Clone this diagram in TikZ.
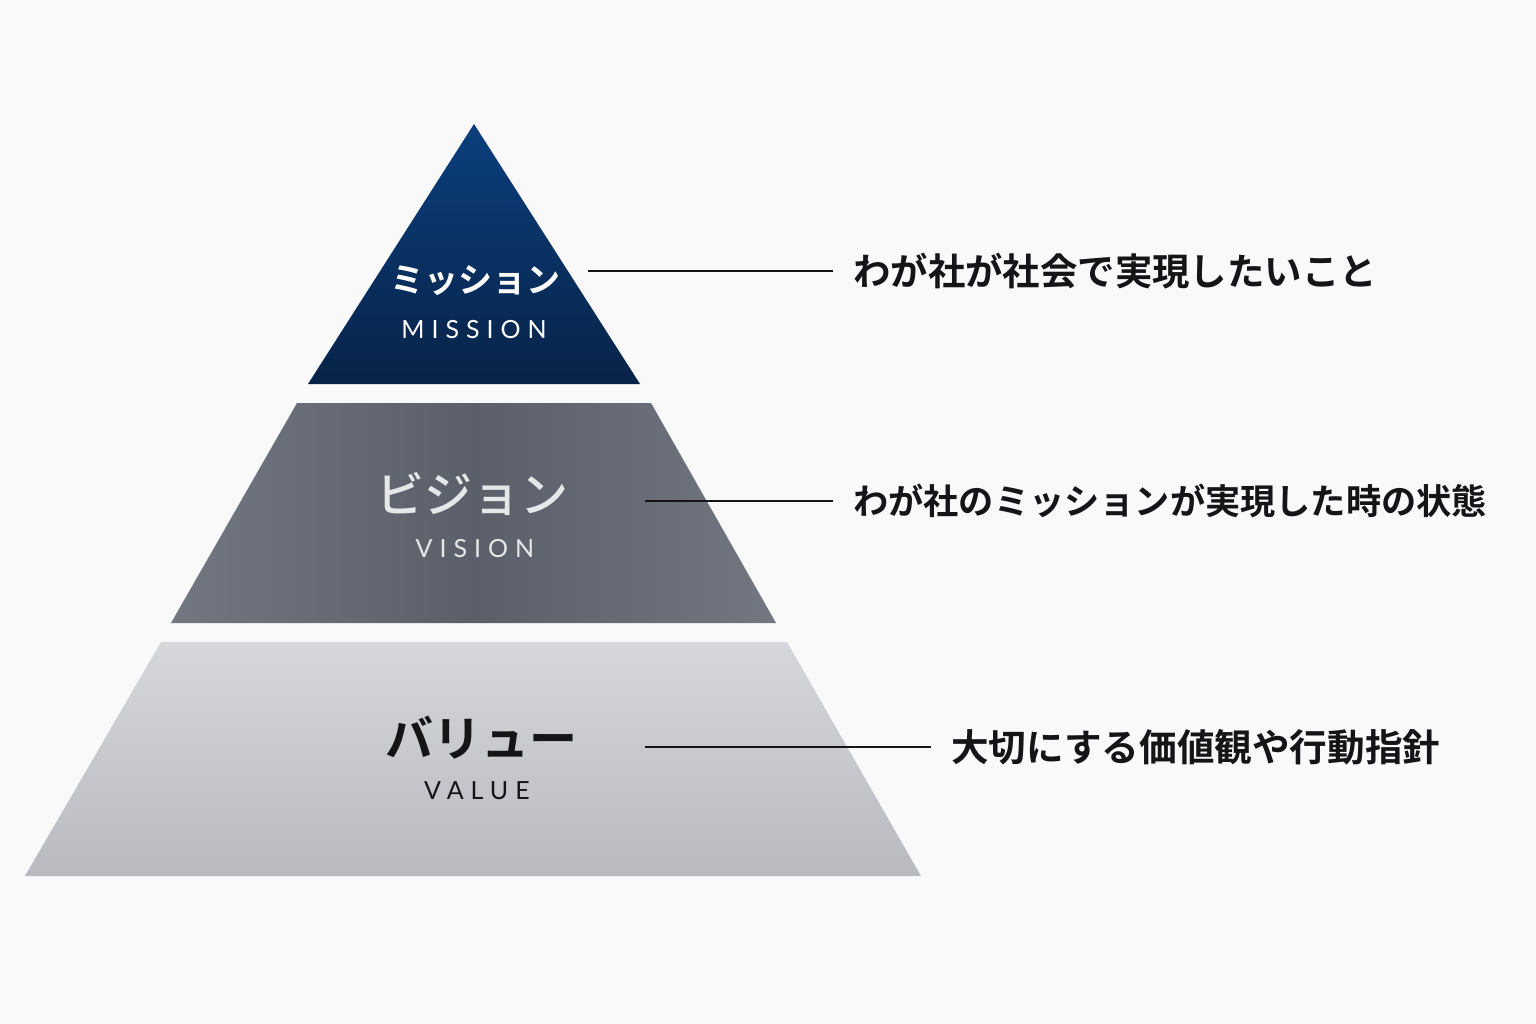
\documentclass[tikz,border=0pt]{standalone}
\usepackage{fontspec}
\newfontfamily\jpb{Noto Sans CJK JP Bold}
\newfontfamily\jpm{Noto Sans CJK JP Medium}
\newfontfamily\enf[LetterSpace=28]{Lato}
\definecolor{bg}{HTML}{F9F9FA}
\definecolor{navyT}{HTML}{0B3F7D}
\definecolor{navyB}{HTML}{082348}
\definecolor{grayE}{HTML}{737782}
\definecolor{grayM}{HTML}{5B5F6A}
\definecolor{lightT}{HTML}{D6D7DA}
\definecolor{lightB}{HTML}{B9BAC0}
\definecolor{ink}{HTML}{151518}
\definecolor{palegray}{HTML}{E6E7E9}
\begin{document}
\begin{tikzpicture}[x=1pt,y=-1pt,
  title/.style={inner sep=0pt,anchor=center},
  sub/.style={inner sep=0pt,anchor=center,font=\enf\fontsize{25}{25}\selectfont},
  desc/.style={anchor=west,inner xsep=20pt,inner ysep=0pt,text=ink},
  leader/.style={draw=ink,line width=1.6pt}]
\useasboundingbox (0,0) rectangle (1536,1024);
\fill[bg] (0,0) rectangle (1536,1024);
% layers
\shade[top color=navyT,bottom color=navyB] (474,124) -- (640,384) -- (308,384) -- cycle;
\shade[left color=grayE,right color=grayE,middle color=grayM] (297,403) -- (651,403) -- (776,623) -- (171,623) -- cycle;
\shade[top color=lightT,bottom color=lightB] (161,642) -- (787,642) -- (921,876) -- (25,876) -- cycle;
% labels in pyramid
\node[title,text=white,font=\jpb\fontsize{34}{34}\selectfont] (mj) at (475,281) {ミッション};
\node[sub,text=white] (me) at (474,330) {MISSION};
\node[title,text=palegray,font=\jpm\fontsize{48}{48}\selectfont] (vj) at (472,494) {ビジョン};
\node[sub,text=palegray] (ve) at (475,549) {VISION};
\node[title,text=ink,font=\jpb\fontsize{48}{48}\selectfont] (aj) at (481,738) {バリュー};
\node[sub,text=ink] (ae) at (477,791) {VALUE};
% connectors
\coordinate (c1) at (588,271);
\coordinate (c2) at (645,501);
\coordinate (c3) at (645,747);
\node[desc,font=\jpb\fontsize{37.4}{37}\selectfont] (d1) at (833,271) {わが社が社会で実現したいこと};
\node[desc,font=\jpb\fontsize{35.2}{35}\selectfont] (d2) at (833,501) {わが社のミッションが実現した時の状態};
\node[desc,font=\jpb\fontsize{37.6}{37}\selectfont] (d3) at (931,747) {大切にする価値観や行動指針};
\draw[leader] (c1) -- (d1.west);
\draw[leader] (c2) -- (d2.west);
\draw[leader] (c3) -- (d3.west);
\end{tikzpicture}
\end{document}
